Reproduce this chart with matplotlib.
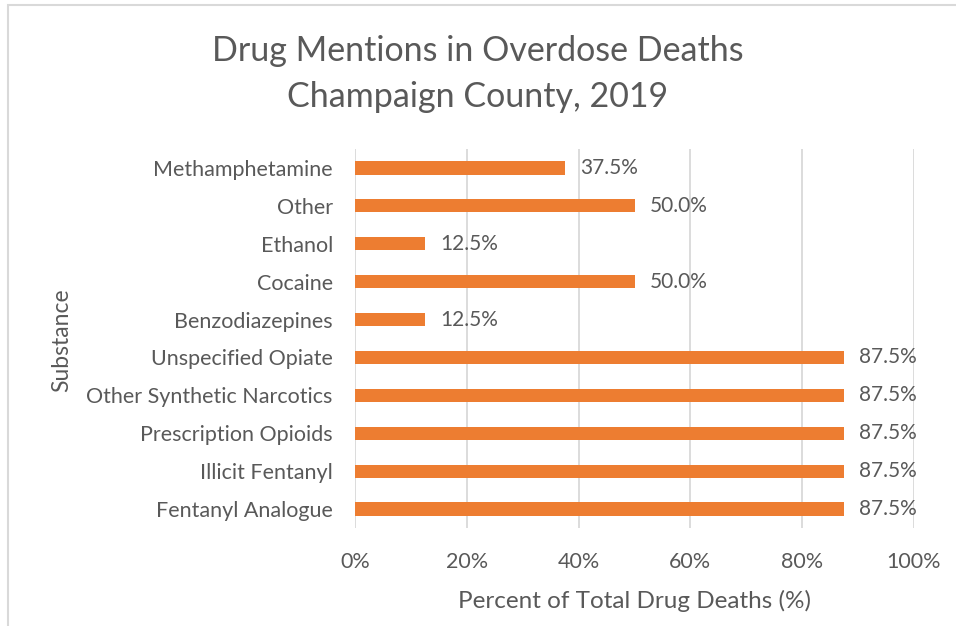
import matplotlib.pyplot as plt
from matplotlib.patches import Rectangle

plt.rcParams['font.family'] = ['Lato', 'DejaVu Sans']

substances = ['Methamphetamine', 'Other', 'Ethanol', 'Cocaine', 'Benzodiazepines',
              'Unspecified Opiate', 'Other Synthetic Narcotics', 'Prescription Opioids',
              'Illicit Fentanyl', 'Fentanyl Analogue']
percent = [37.5, 50.0, 12.5, 50.0, 12.5, 87.5, 87.5, 87.5, 87.5, 87.5]
xticks = [0, 20, 40, 60, 80, 100]

txt = '#595959'
bar_col = '#ED7D31'

fig = plt.figure(figsize=(9.56, 6.26), dpi=100)
# outer chart border
fig.patches.append(Rectangle((8 / 956, -0.1), 1.2, 1.1 - 5 / 626, transform=fig.transFigure,
                             fill=False, edgecolor='#D9D9D9', linewidth=1.5))

ax = fig.add_axes([355 / 956, 1 - 528 / 626, 559 / 956, 379 / 626])
y = list(range(len(substances)))
ax.barh(y, percent, height=0.35, color=bar_col, zorder=3)
for yi, v in zip(y, percent):
    ax.annotate('{:.1f}%'.format(v), (v, yi), xytext=(11, 0), textcoords='offset points',
                va='center', ha='left', fontsize=15, color=txt)

ax.set_xlim(0, 100)
ax.set_ylim(len(substances) - 0.5, -0.5)
ax.set_xticks(xticks)
ax.set_xticklabels(['{}%'.format(t) for t in xticks])
ax.set_yticks(y)
ax.set_yticklabels(substances)
ax.grid(axis='x', color='#D9D9D9', linewidth=1.3, zorder=0)
for s in ax.spines.values():
    s.set_visible(False)
ax.tick_params(length=0, labelsize=15.5, colors=txt)
ax.tick_params(axis='x', pad=17)
ax.tick_params(axis='y', pad=16)

fig.text(634 / 956, 1 - 601 / 626, 'Percent of Total Drug Deaths (%)', ha='center', va='center',
         fontsize=17.5, color=txt)
fig.text(62 / 956, 1 - 340 / 626, 'Substance', ha='center', va='center', rotation=90,
         fontsize=16.5, color=txt)

fig.text(0.5, 1 - 74 / 626, 'Drug Mentions in Overdose Deaths\nChampaign County, 2019',
         ha='center', va='center', fontsize=24.5, color=txt, linespacing=1.55)

fig.savefig('out.png', dpi=100, facecolor='white')
